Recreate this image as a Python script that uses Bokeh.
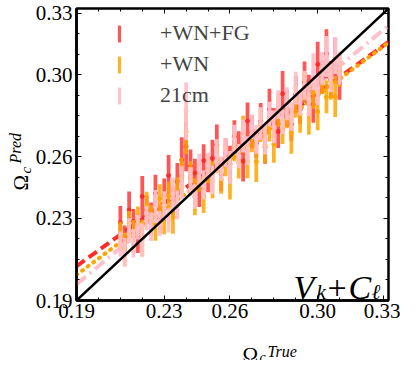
import numpy as np
from bokeh.plotting import figure
from bokeh.layouts import row, column
from bokeh.models import (Range1d, LinearAxis, FixedTicker, Label, Legend,
                          LegendItem, ColumnDataSource, NumeralTickFormatter)
from bokeh.embed import file_html
from bokeh.resources import INLINE

# ---------------- data ----------------
axis_min, axis_max = 0.19, 0.3323
tick_values = [0.19, 0.23, 0.26, 0.30, 0.33]
minor_tick_values = [0.20, 0.21, 0.22, 0.24, 0.25, 0.27, 0.28, 0.29, 0.31, 0.32]

omega_true = [0.210, 0.212, 0.214, 0.216, 0.218, 0.220, 0.222, 0.224, 0.226, 0.228,
              0.230, 0.232, 0.234, 0.236, 0.238, 0.240, 0.242, 0.244, 0.246, 0.248,
              0.250, 0.252, 0.254, 0.256, 0.258, 0.260, 0.262, 0.264, 0.266, 0.268,
              0.270, 0.272, 0.274, 0.276, 0.278, 0.280, 0.282, 0.284, 0.286, 0.288,
              0.290, 0.292, 0.294, 0.296, 0.298, 0.300, 0.302, 0.304, 0.306, 0.308,
              0.310]

pred_wn_fg = [0.2280, 0.2195, 0.2341, 0.2286, 0.2211, 0.2407, 0.2342, 0.2298, 0.2423, 0.2298,
              0.2414, 0.2509, 0.2384, 0.2480, 0.2585, 0.2650, 0.2556, 0.2521, 0.2446, 0.2582,
              0.2497, 0.2593, 0.2658, 0.2513, 0.2619, 0.2564, 0.2699, 0.2655, 0.2580, 0.2775,
              0.2721, 0.2666, 0.2772, 0.2647, 0.2832, 0.2768, 0.2723, 0.2908, 0.2834, 0.2759,
              0.2904, 0.2830, 0.2965, 0.2920, 0.2856, 0.3051, 0.2986, 0.3102, 0.2977, 0.3082,
              0.2958]
err_wn_fg = [0.008, 0.007, 0.009, 0.006, 0.008, 0.010, 0.007, 0.008, 0.009, 0.007,
             0.008, 0.010, 0.007, 0.009, 0.011, 0.012, 0.008, 0.007, 0.009, 0.008,
             0.007, 0.009, 0.010, 0.008, 0.007, 0.009, 0.008, 0.007, 0.010, 0.009,
             0.008, 0.007, 0.009, 0.008, 0.010, 0.007, 0.008, 0.011, 0.009, 0.008,
             0.009, 0.007, 0.010, 0.008, 0.009, 0.011, 0.008, 0.012, 0.009, 0.010,
             0.008]

pred_wn = [0.2214, 0.2150, 0.2276, 0.2212, 0.2288, 0.2204, 0.2360, 0.2305, 0.2271, 0.2397,
           0.2313, 0.2409, 0.2305, 0.2431, 0.2507, 0.2723, 0.2499, 0.2405, 0.2501, 0.2406,
           0.2542, 0.2488, 0.2604, 0.2490, 0.2586, 0.2492, 0.2648, 0.2574, 0.2710, 0.2576,
           0.2692, 0.2577, 0.2753, 0.2659, 0.2745, 0.2661, 0.2827, 0.2733, 0.2829, 0.2715,
           0.2871, 0.2807, 0.2942, 0.2808, 0.2914, 0.2820, 0.2976, 0.2892, 0.2968, 0.2894,
           0.3020]
err_wn = [0.007, 0.008, 0.006, 0.008, 0.007, 0.009, 0.007, 0.006, 0.008, 0.007,
          0.009, 0.007, 0.008, 0.007, 0.009, 0.011, 0.008, 0.009, 0.007, 0.008,
          0.007, 0.009, 0.008, 0.007, 0.008, 0.010, 0.007, 0.008, 0.009, 0.008,
          0.007, 0.010, 0.008, 0.009, 0.007, 0.009, 0.008, 0.007, 0.009, 0.010,
          0.008, 0.009, 0.007, 0.010, 0.008, 0.009, 0.007, 0.008, 0.009, 0.010,
          0.008]

pred_21cm = [0.2176, 0.2134, 0.2241, 0.2179, 0.2257, 0.2195, 0.2302, 0.2260, 0.2358, 0.2275,
             0.2363, 0.2291, 0.2419, 0.2366, 0.2474, 0.2822, 0.2479, 0.2407, 0.2535, 0.2463,
             0.2560, 0.2488, 0.2606, 0.2543, 0.2621, 0.2549, 0.2687, 0.2604, 0.2702, 0.2630,
             0.2747, 0.2685, 0.2763, 0.2681, 0.2808, 0.2746, 0.2854, 0.2771, 0.2859, 0.2797,
             0.2935, 0.2862, 0.2950, 0.2878, 0.3015, 0.2923, 0.3031, 0.3089, 0.2986, 0.3094,
             0.3032]
err_21cm = [0.006, 0.007, 0.006, 0.007, 0.006, 0.008, 0.006, 0.007, 0.008, 0.006,
            0.007, 0.006, 0.008, 0.007, 0.008, 0.014, 0.007, 0.006, 0.008, 0.007,
            0.006, 0.007, 0.008, 0.006, 0.007, 0.008, 0.007, 0.006, 0.008, 0.007,
            0.006, 0.007, 0.008, 0.007, 0.006, 0.008, 0.007, 0.006, 0.008, 0.007,
            0.008, 0.006, 0.007, 0.008, 0.009, 0.007, 0.008, 0.010, 0.007, 0.009,
            0.008]

series_labels = ["+WN+FG", "+WN", "21cm"]
# linear fit lines: value at the left and at the right edge of the axis
fit_left = [0.2067, 0.2025, 0.1979]
fit_right = [0.3160, 0.3157, 0.3240]

# ---------------- styles ----------------
colors = ["#ff2a2a", "#ffa500", "#ffc0cb"]
alphas = [0.8, 0.85, 0.95]
fit_dash = ["10 5", "1 6", "12 5 2 5"]
FONT = "Liberation Serif"
bar_width = 0.0017

p = figure(width=368, height=330, x_range=Range1d(axis_min, axis_max),
           y_range=Range1d(axis_min, axis_max), output_backend="svg",
           toolbar_location=None, min_border_left=41, min_border_right=12,
           min_border_top=8, min_border_bottom=30)
p.title.visible = False
p.xgrid.grid_line_color = None
p.ygrid.grid_line_color = None
p.outline_line_color = "black"
p.outline_line_width = 2.5
p.outline_line_alpha = 1.0

ticker = FixedTicker(ticks=tick_values, minor_ticks=minor_tick_values)
for ax in (p.xaxis[0], p.yaxis[0]):
    ax.ticker = ticker
    ax.formatter = NumeralTickFormatter(format="0.00")
    ax.axis_line_width = 2.5
    ax.major_tick_in = 5
    ax.major_tick_out = 0
    ax.minor_tick_in = 3
    ax.minor_tick_out = 0
    ax.major_label_text_font = FONT
    ax.major_label_text_font_size = "21px"
    ax.major_label_text_color = "black"
p.xaxis[0].major_label_standoff = 3
p.yaxis[0].major_label_standoff = 4

for side in ("above", "right"):
    ax = LinearAxis(ticker=ticker, major_label_text_font_size="1px",
                    major_label_text_color=None, major_label_standoff=0,
                    axis_line_color=None, major_tick_in=5, major_tick_out=0,
                    minor_tick_in=3, minor_tick_out=0)
    p.add_layout(ax, side)

xs_fit = [axis_min, axis_max]
for i in range(3):
    p.line(xs_fit, [fit_left[i], fit_right[i]], line_color=colors[i], line_width=4,
           line_dash=fit_dash[i], line_cap="round" if i == 1 else "butt")

renderers = []
for preds, errs, c, a in zip([pred_wn_fg, pred_wn, pred_21cm],
                             [err_wn_fg, err_wn, err_21cm], colors, alphas):
    y = np.array(preds)
    e = np.array(errs)
    src = ColumnDataSource(dict(x=omega_true, y=y, top=y + e, bottom=y - e))
    r = p.vbar(x="x", top="top", bottom="bottom", width=bar_width, source=src,
               fill_color=c, fill_alpha=a, line_color=None)
    p.scatter(x="x", y="y", source=src, size=4, fill_color=c, line_color=c,
              fill_alpha=1, line_alpha=0.9)
    renderers.append(r)

p.line([axis_min, axis_max], [axis_min, axis_max], line_color="black", line_width=2.5)

legend = Legend(items=[LegendItem(label=l, renderers=[r]) for l, r in zip(series_labels, renderers)],
                location=(41, 192), padding=0, margin=0, border_line_color=None,
                background_fill_alpha=0, label_text_font=FONT, label_text_font_size="22px",
                glyph_width=4, glyph_height=21, label_height=21, spacing=5,
                label_standoff=39)
p.add_layout(legend)


def lab(fig, text, x, y, size, italic=False, angle=0):
    fig.add_layout(Label(text=text, x=x, y=y, x_units="screen", y_units="screen",
                         text_font=FONT, text_font_size=size,
                         text_font_style="italic" if italic else "normal",
                         text_baseline="alphabetic", text_align="left", angle=angle,
                         text_color="black"))


# V_k + C_l annotation inside the frame
lab(p, "V", 217, 13, "34px", italic=True)
lab(p, "k", 240, 9, "21px", italic=True)
lab(p, "+", 251, 13, "34px")
lab(p, "C", 272, 13, "34px", italic=True)
lab(p, "ℓ", 295, 9, "21px", italic=True)


def label_panel(w, h):
    f = figure(width=w, height=h, output_backend="svg", toolbar_location=None,
               x_axis_location=None, y_axis_location=None, min_border=0,
               x_range=Range1d(0, 1), y_range=Range1d(0, 1))
    f.title.visible = False
    f.outline_line_color = None
    f.xgrid.grid_line_color = None
    f.ygrid.grid_line_color = None
    return f


# y axis label  Omega_c^Pred
ylab = label_panel(32, 360)
lab(ylab, "Ω", 20, 170, "21px", angle=np.pi / 2)
lab(ylab, "c", 25, 187, "15px", italic=True, angle=np.pi / 2)
lab(ylab, "Pred", 15, 197, "16px", italic=True, angle=np.pi / 2)

# x axis label  Omega_c^True
xlab = label_panel(368, 30)
lab(xlab, "Ω", 166, 6, "21px")
lab(xlab, "c", 183, 3, "14px", italic=True)
lab(xlab, "True", 191, 9, "16px", italic=True)

layout = row(ylab, column(p, xlab))
open("out.html", "w").write(file_html(layout, INLINE))
